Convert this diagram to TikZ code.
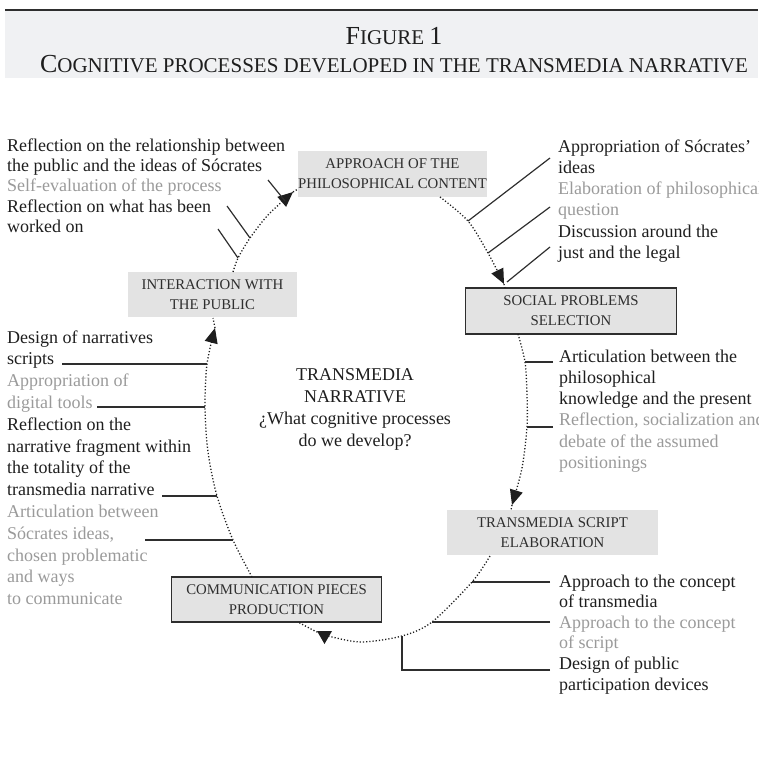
\documentclass[tikz,border=0pt]{standalone}
\usepackage{fontspec}
\setmainfont{Liberation Serif}
\usetikzlibrary{arrows.meta}
\definecolor{txt}{HTML}{1E1E1E}
\definecolor{lg}{HTML}{9A9A9A}
\definecolor{boxfill}{HTML}{E3E3E3}
\definecolor{band}{HTML}{F0F1F3}
\definecolor{ln}{HTML}{2E2E2E}
\newcommand\bigsc[1]{{\fontsize{26}{26}\selectfont #1}}
\newcommand\smsc[1]{{\fontsize{21}{21}\selectfont #1}}
\begin{document}
\begin{tikzpicture}[x=1pt,y=-1pt,
  lbl/.style={inner sep=0pt, anchor=base west, align=left, text=txt},
  stagebox/.style={fill=boxfill, inner sep=0pt, align=center, text=ln,
    font=\fontsize{14.8}{20}\selectfont},
  framed/.style={draw=ln, line width=1.2pt},
  dots/.style={line width=1.3pt, dash pattern=on 1.2pt off 2pt, txt},
  conn/.style={line width=1.2pt, ln},
  tipstyle/.style={-{Triangle[length=15pt,width=13pt]}}
]
\useasboundingbox (0,0) rectangle (758,767);
% header
\fill[band] (5,10) rectangle (758,78);
\draw[ln, line width=1.5pt] (5,10) -- (758,10);
\node[anchor=base, inner sep=0pt, text=txt] (fig) at (394,45) {\bigsc{F}\smsc{IGURE\ }\bigsc{1}};
\node[anchor=base, inner sep=0pt, text=txt] (sub) at (394,73) {\bigsc{C}\smsc{OGNITIVE PROCESSES DEVELOPED IN THE TRANSMEDIA NARRATIVE}};

% stage boxes
\node[stagebox, minimum width=189pt, minimum height=46pt] (appr) at (392.5,174) {APPROACH OF THE\\PHILOSOPHICAL CONTENT};
\node[stagebox, minimum width=169pt, minimum height=45pt] (intr) at (212.5,294.5) {INTERACTION WITH\\THE PUBLIC};
\node[stagebox, framed, minimum width=211pt, minimum height=46pt] (soc) at (571,311) {SOCIAL PROBLEMS\\SELECTION};
\node[stagebox, minimum width=211pt, minimum height=45pt] (tsc) at (552.5,532.5) {TRANSMEDIA SCRIPT\\ELABORATION};
\node[stagebox, framed, minimum width=210pt, minimum height=45pt] (com) at (276.5,599.5) {COMMUNICATION PIECES\\PRODUCTION};

% centre (base anchor = last line's baseline)
\node[anchor=base, inner sep=0pt, align=center, text=txt, font=\fontsize{18}{22.2}\selectfont] (ctr) at (355,446.6)
  {TRANSMEDIA\\NARRATIVE\\¿What cognitive processes\\do we develop?};

% text blocks (base anchor = last line's baseline)
\node[lbl, font=\fontsize{18}{20}\selectfont] (tl) at (7,232)
  {Reflection on the relationship between\\the public and the ideas of Sócrates\\\textcolor{lg}{Self-evaluation of the process}\\Reflection on what has been\\worked on};
\node[lbl, font=\fontsize{18}{21.3}\selectfont] (tr) at (558,258.5)
  {Appropriation of Sócrates'\\ideas\\\textcolor{lg}{Elaboration of philosophical}\\\textcolor{lg}{question}\\Discussion around the\\just and the legal};
\node[lbl, font=\fontsize{18}{21.3}\selectfont] (rm) at (559,468.5)
  {Articulation between the\\philosophical\\knowledge and the present\\\textcolor{lg}{Reflection, socialization and}\\\textcolor{lg}{debate of the assumed}\\\textcolor{lg}{positionings}};
\node[lbl, font=\fontsize{18}{20.6}\selectfont] (br) at (559,690)
  {Approach to the concept\\of transmedia\\\textcolor{lg}{Approach to the concept}\\\textcolor{lg}{of script}\\Design of public\\participation devices};
\node[lbl, font=\fontsize{18}{21.8}\selectfont] (lm) at (7,604.6)
  {Design of narratives\\scripts\\\textcolor{lg}{Appropriation of}\\\textcolor{lg}{digital tools}\\Reflection on the\\narrative fragment within\\the totality of the\\transmedia narrative\\\textcolor{lg}{Articulation between}\\\textcolor{lg}{Sócrates ideas,}\\\textcolor{lg}{chosen problematic}\\\textcolor{lg}{and ways}\\\textcolor{lg}{to communicate}};

% curve points
\coordinate (c1s) at (233,272);
\coordinate (k3) at (238,258);
\coordinate (k2) at (250,238);
\coordinate (c1m) at (268,215);
\coordinate (tip1) at (293,192);
\coordinate (a1e) at (298,189);

\coordinate (c2s) at (440,197);
\coordinate (kA) at (468,221);
\coordinate (kB) at (488,253);
\coordinate (tip2) at (504,284);
\coordinate (a2e) at (505,288);

\coordinate (c3s) at (518,334);
\coordinate (kD) at (525,362);
\coordinate (c3m) at (527,395);
\coordinate (kE) at (527,427);
\coordinate (c3n) at (522,468);
\coordinate (tip3) at (512,505);
\coordinate (a3e) at (511,510);

\coordinate (c4s) at (490,556);
\coordinate (kF) at (472,582);
\coordinate (kG) at (432,622);
\coordinate (kH) at (402,636);
\coordinate (c4b) at (362,642);
\coordinate (c4c) at (332,637);
\coordinate (c4d) at (317,632);
\coordinate (c4e) at (298,622);

\coordinate (c5s) at (252,577);
\coordinate (kM4) at (233,540);
\coordinate (kM3) at (217,496);
\coordinate (c5m) at (208,452);
\coordinate (kM2) at (205,407);
\coordinate (kM1) at (207,364);
\coordinate (tip5) at (215,328);
\coordinate (a5e) at (213,318);

% dotted cycle
\draw[dots, tipstyle] plot[smooth] coordinates {(c1s) (k3) (k2) (c1m) (tip1)};
\draw[dots] (tip1) -- (a1e);
\draw[dots, tipstyle] plot[smooth] coordinates {(c2s) (kA) (kB) (tip2)};
\draw[dots] (tip2) -- (a2e);
\draw[dots, tipstyle] plot[smooth] coordinates {(c3s) (kD) (c3m) (kE) (c3n) (tip3)};
\draw[dots] (tip3) -- (a3e);
\draw[dots] plot[smooth] coordinates {(c4s) (kF) (kG) (kH) (c4b) (c4c) (c4d) (c4e)};
\coordinate (t4a) at (317,631);
\coordinate (t4b) at (332,631);
\coordinate (t4c) at (324.5,644);
\fill[txt] (t4a) -- (t4b) -- (t4c) -- cycle;
\draw[dots, tipstyle] plot[smooth] coordinates {(c5s) (kM4) (kM3) (c5m) (kM2) (kM1) (tip5)};
\draw[dots] (tip5) -- (a5e);

% connectors to text
\coordinate (l1a) at (268,180);
\coordinate (l1b) at (285,201);
\coordinate (l2a) at (227,206);
\coordinate (l3a) at (218,229);
\draw[conn] (l1a) -- (l1b);
\draw[conn] (l2a) -- (k2);
\draw[conn] (l3a) -- (k3);

\coordinate (lAa) at (550,158);
\coordinate (lBa) at (550,207);
\coordinate (lCa) at (550,247);
\coordinate (lCb) at (507,282);
\draw[conn] (lAa) -- (kA);
\draw[conn] (lBa) -- (kB);
\draw[conn] (lCa) -- (lCb);

\coordinate (lDa) at (553,362);
\coordinate (lEa) at (553,427);
\draw[conn] (lDa) -- (kD);
\draw[conn] (lEa) -- (kE);

\coordinate (lFa) at (550,582);
\coordinate (lGa) at (550,622);
\coordinate (lHa) at (550,670);
\draw[conn] (lFa) -- (kF);
\draw[conn] (lGa) -- (kG);
\draw[conn] (lHa) -| (kH);

\coordinate (lM1a) at (62,364);
\coordinate (lM2a) at (97,407);
\coordinate (lM3a) at (162,496);
\coordinate (lM4a) at (145,540);
\draw[conn] (lM1a) -- (kM1);
\draw[conn] (lM2a) -- (kM2);
\draw[conn] (lM3a) -- (kM3);
\draw[conn] (lM4a) -- (kM4);
\end{tikzpicture}
\end{document}
